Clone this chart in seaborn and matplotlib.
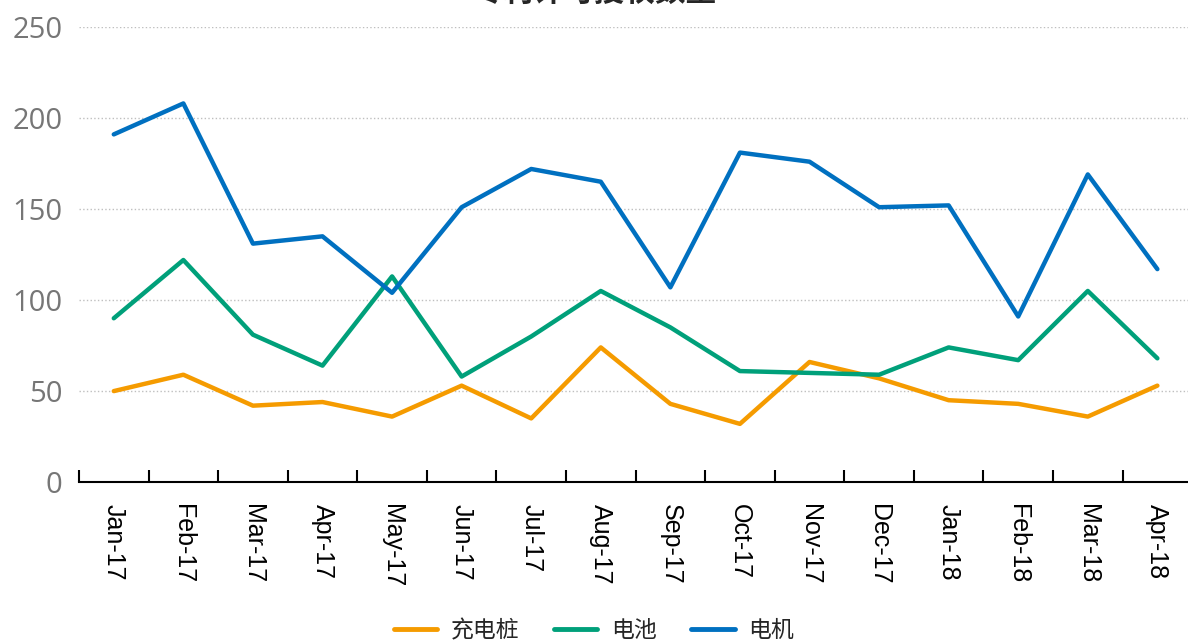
import matplotlib
matplotlib.use('Agg')
import matplotlib.pyplot as plt
import pandas as pd
import seaborn as sb

months = ['Jan-17', 'Feb-17', 'Mar-17', 'Apr-17', 'May-17', 'Jun-17', 'Jul-17', 'Aug-17',
          'Sep-17', 'Oct-17', 'Nov-17', 'Dec-17', 'Jan-18', 'Feb-18', 'Mar-18', 'Apr-18']
charging = [50, 59, 42, 44, 36, 53, 35, 74, 43, 32, 66, 57, 45, 43, 36, 53]
battery = [90, 122, 81, 64, 113, 58, 80, 105, 85, 61, 60, 59, 74, 67, 105, 68]
motor = [191, 208, 131, 135, 104, 151, 172, 165, 107, 181, 176, 151, 152, 91, 169, 117]
series_names = ['充电桩', '电池', '电机']
colors = ['#F59B00', '#00A07A', '#0070C0']

sb.set_style('white')
plt.rcParams['font.family'] = ['Noto Sans CJK SC', 'DejaVu Sans']

df = pd.DataFrame({'月份': months * 3,
                   '数量': charging + battery + motor,
                   '类别': [n for n in series_names for _ in months]})

fig = plt.figure(figsize=(11.88, 6.42), dpi=100)
ax = fig.add_axes([0.0665, 0.249, 0.937, 0.709])
sb.lineplot(x='月份', y='数量', hue='类别', data=df, palette=colors,
            hue_order=series_names, linewidth=3.2, ax=ax, sort=False,
            solid_capstyle='round', legend=False)

ax.set_ylim(0, 250)
ax.set_xlim(-0.5, len(months) - 0.5)
ax.set_xticks(range(len(months)))
ax.set_xticklabels(months, rotation=270, fontsize=18, color='black',
                   family=['Liberation Sans', 'DejaVu Sans'])
ax.set_yticks(range(0, 251, 50))
ax.set_yticklabels([str(v) for v in range(0, 251, 50)], fontsize=21, color='#767676',
                   family=['Open Sans', 'DejaVu Sans'])
ax.set_xticks([i - 0.5 for i in range(len(months) + 1)], minor=True)
ax.tick_params(axis='x', which='both', bottom=True)
ax.tick_params(axis='x', which='major', length=0, pad=16)
ax.tick_params(axis='x', which='minor', direction='in', length=9, width=1.5, color='black')
ax.tick_params(axis='y', length=0, pad=12)
ax.grid(axis='y', linestyle=':', color='#BFBFBF', linewidth=1)
ax.set_xlabel('')
ax.set_ylabel('')
for s in ['top', 'right', 'left']:
    ax.spines[s].set_visible(False)
ax.spines['bottom'].set_color('black')
ax.spines['bottom'].set_linewidth(1.5)

handles = [plt.Line2D([], [], color=c, linewidth=3.5) for c in colors]
fig.legend(handles, series_names, loc='center', bbox_to_anchor=(0.5, 0.018), ncol=3,
           frameon=False, fontsize=16.5, handlelength=1.9, columnspacing=1.5,
           handletextpad=0.6)

fig.text(0.5, 1 - 8 / 642, '专利许可授权数量', ha='center', va='bottom', fontsize=22,
         fontweight='bold')

fig.savefig('out.png', dpi=100)
